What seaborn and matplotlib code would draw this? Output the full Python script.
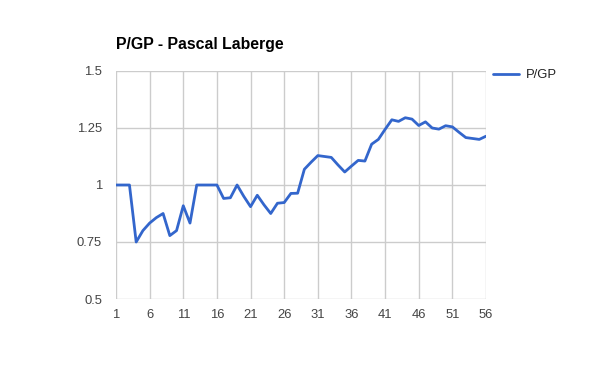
import matplotlib
matplotlib.use("Agg")
import matplotlib.pyplot as plt
import seaborn as sns
import pandas as pd

games = list(range(1, 57))
pgp = [1.0, 1.0, 1.0, 0.75, 0.8, 0.833, 0.857, 0.875, 0.778, 0.8,
       0.909, 0.833, 1.0, 1.0, 1.0, 1.0, 0.941, 0.944, 1.0, 0.95,
       0.905, 0.955, 0.913, 0.875, 0.92, 0.923, 0.963, 0.964, 1.069, 1.1,
       1.129, 1.125, 1.121, 1.088, 1.057, 1.083, 1.108, 1.105, 1.179, 1.2,
       1.244, 1.286, 1.279, 1.295, 1.289, 1.261, 1.277, 1.25, 1.245, 1.26,
       1.255, 1.231, 1.208, 1.204, 1.2, 1.214]
x_ticks = [1, 6, 11, 16, 21, 26, 31, 36, 41, 46, 51, 56]
y_ticks = [0.5, 0.75, 1.0, 1.25, 1.5]
y_tick_labels = ["0.5", "0.75", "1", "1.25", "1.5"]
title = "P/GP - Pascal Laberge"
series_name = "P/GP"

df = pd.DataFrame({"Game": games, series_name: pgp})

sns.set_style("white")
plt.rcParams["font.family"] = ["Liberation Sans", "DejaVu Sans"]

fig = plt.figure(figsize=(6, 3.71), dpi=100)
ax = fig.add_axes([116 / 600, 1 - 299 / 371, 370 / 600, 228 / 371])

sns.lineplot(data=df, x="Game", y=series_name, ax=ax, color="#3366cc",
             linewidth=2, label=series_name, legend=False,
             solid_joinstyle="round", solid_capstyle="round")

ax.set_xlim(1, 56)
ax.set_ylim(0.5, 1.5)
ax.set_xticks(x_ticks)
ax.set_xticklabels([str(t) for t in x_ticks])
ax.set_yticks(y_ticks)
ax.set_yticklabels(y_tick_labels)
ax.grid(True, color="#cccccc", linewidth=1)
ax.set_axisbelow(True)
for s in ax.spines.values():
    s.set_visible(False)
ax.tick_params(axis="both", length=0, labelsize=9.4, colors="#444444")
ax.tick_params(axis="x", pad=7)
ax.tick_params(axis="y", pad=10)
ax.set_xlabel("")
ax.set_ylabel("")

fig.text(116 / 600, 1 - 45 / 371, title, fontsize=11.4, fontweight="bold",
         color="#000000", va="center", ha="left")

handles, labels = ax.get_legend_handles_labels()
fig.legend(handles, labels, loc="center left",
           bbox_to_anchor=(493 / 600, 1 - 75 / 371), frameon=False,
           fontsize=9.4, handlelength=2.0, handletextpad=0.5,
           labelcolor="#222222", borderaxespad=0, borderpad=0)

fig.savefig("out.png", dpi=100)
